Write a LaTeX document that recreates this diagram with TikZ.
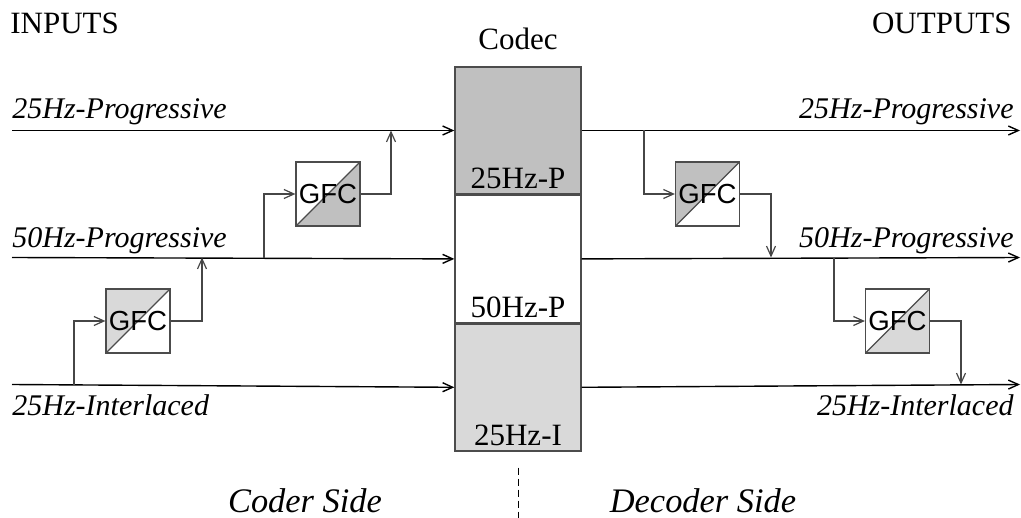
\documentclass[tikz,border=0pt]{standalone}
\usepackage{fontspec}
\setmainfont{Liberation Serif}
\setsansfont{Liberation Sans}
\usepackage{tikz}
\usetikzlibrary{arrows.meta,positioning}
\definecolor{codecdark}{RGB}{192,192,192}
\definecolor{codeclight}{RGB}{217,217,217}
\definecolor{wiregray}{RGB}{70,70,70}

\begin{document}
\begin{tikzpicture}[
    x=0.5pt, y=-0.5pt,
    node distance=0pt,
    every node/.style={font=\fontsize{15.5}{18}\selectfont, inner sep=0pt},
    lbl/.style={font=\fontsize{15}{18}\selectfont\itshape},
    side/.style={font=\fontsize{17.2}{20}\selectfont\itshape},
    codecsec/.style={draw=black!70, line width=0.7pt, minimum width=63pt, minimum height=63.5pt},
    gfc/.style={draw=black!70, line width=0.6pt, minimum size=32pt, font=\sffamily\fontsize{13.8}{16}\selectfont},
    gfc lr/.style={gfc, path picture={
        \fill[#1] (path picture bounding box.south west) -- (path picture bounding box.south east) -- (path picture bounding box.north east) -- cycle;
        \draw[line width=0.6pt] (path picture bounding box.south west) -- (path picture bounding box.north east);}},
    gfc ul/.style={gfc, path picture={
        \fill[#1] (path picture bounding box.south west) -- (path picture bounding box.north west) -- (path picture bounding box.north east) -- cycle;
        \draw[line width=0.6pt] (path picture bounding box.south west) -- (path picture bounding box.north east);}},
    arr/.style={-{Straight Barb[length=5pt,width=4.5pt]}, line width=0.7pt},
    wire/.style={arr, draw=wiregray, line width=0.6pt}
]
\useasboundingbox (0,0) rectangle (1021,518);

% codec
\node (p25) [codecsec, fill=codecdark] at (518,130.5) {};
\node (p50) [codecsec, fill=white, below=of p25] {};
\node (i25) [codecsec, fill=codeclight, below=of p50] {};
\node (lp25) [anchor=base] at ([yshift=3pt]p25.south) {25Hz-P};
\node (lp50) [anchor=base] at ([yshift=3pt]p50.south) {50Hz-P};
\node (li25) [anchor=base] at ([yshift=3pt]i25.south) {25Hz-I};
\node (codec) [anchor=base] at (518,50) {Codec};

\node (inputs) [anchor=base west] at (10,34) {INPUTS};
\node (outputs) [anchor=base east] at (1012,34) {OUTPUTS};

% ends of the lines
\coordinate (inP25) at (12,130.5);
\coordinate (inP50) at (12,257.5);
\coordinate (inI25) at (12,384.5);
\coordinate (outP25) at (1020,130.5);
\coordinate (outP50) at (1020,257.5);
\coordinate (outI25) at (1020,384.5);

\node (tInP25) [lbl, anchor=base west] at (12,119) {25Hz-Progressive};
\node (tInP50) [lbl, anchor=base west] at (12,247) {50Hz-Progressive};
\node (tInI25) [lbl, anchor=base west] at (12,415) {25Hz-Interlaced};
\node (tOutP25) [lbl, anchor=base east] at (1014,119) {25Hz-Progressive};
\node (tOutP50) [lbl, anchor=base east] at (1014,247) {50Hz-Progressive};
\node (tOutI25) [lbl, anchor=base east] at (1014,415) {25Hz-Interlaced};

\draw[arr] (inP25) -- (p25.west);
\draw[arr] (inP50) -- (p50.west);
\draw[arr] (inI25) -- (i25.west);
\draw[arr] (p25.east) -- (outP25);
\draw[arr] (p50.east) -- (outP50);
\draw[arr] (i25.east) -- (outI25);

% converters
\node (gfcA) [gfc lr=codecdark] at (328,194) {GFC};
\node (gfcB) [gfc ul=codeclight] at (138,321) {GFC};
\node (gfcC) [gfc ul=codecdark] at (707.5,194) {GFC};
\node (gfcD) [gfc lr=codeclight] at (897.5,321) {GFC};

\coordinate (brA) at (264,257.5);
\coordinate (upA) at (391,130.5);
\coordinate (brB) at (74,384.5);
\coordinate (upB) at (202,257.5);
\coordinate (brC) at (644,130.5);
\coordinate (dnC) at (771,257.5);
\coordinate (brD) at (834,257.5);
\coordinate (dnD) at (961,384.5);

\draw[wire] (brA) |- (gfcA.west);
\draw[wire] (gfcA.east) -| (upA);
\draw[wire] (brB) |- (gfcB.west);
\draw[wire] (gfcB.east) -| (upB);
\draw[wire] (brC) |- (gfcC.west);
\draw[wire] (gfcC.east) -| (dnC);
\draw[wire] (brD) |- (gfcD.west);
\draw[wire] (gfcD.east) -| (dnD);

% sides
\draw[dash pattern=on 3.5pt off 2pt, line width=0.5pt] ([yshift=-8pt]i25.south) -- ([yshift=-36pt]i25.south);
\node (coder) [side, anchor=base] at (305,512) {Coder Side};
\node (decoder) [side, anchor=base] at (703,512) {Decoder Side};
\end{tikzpicture}
\end{document}
